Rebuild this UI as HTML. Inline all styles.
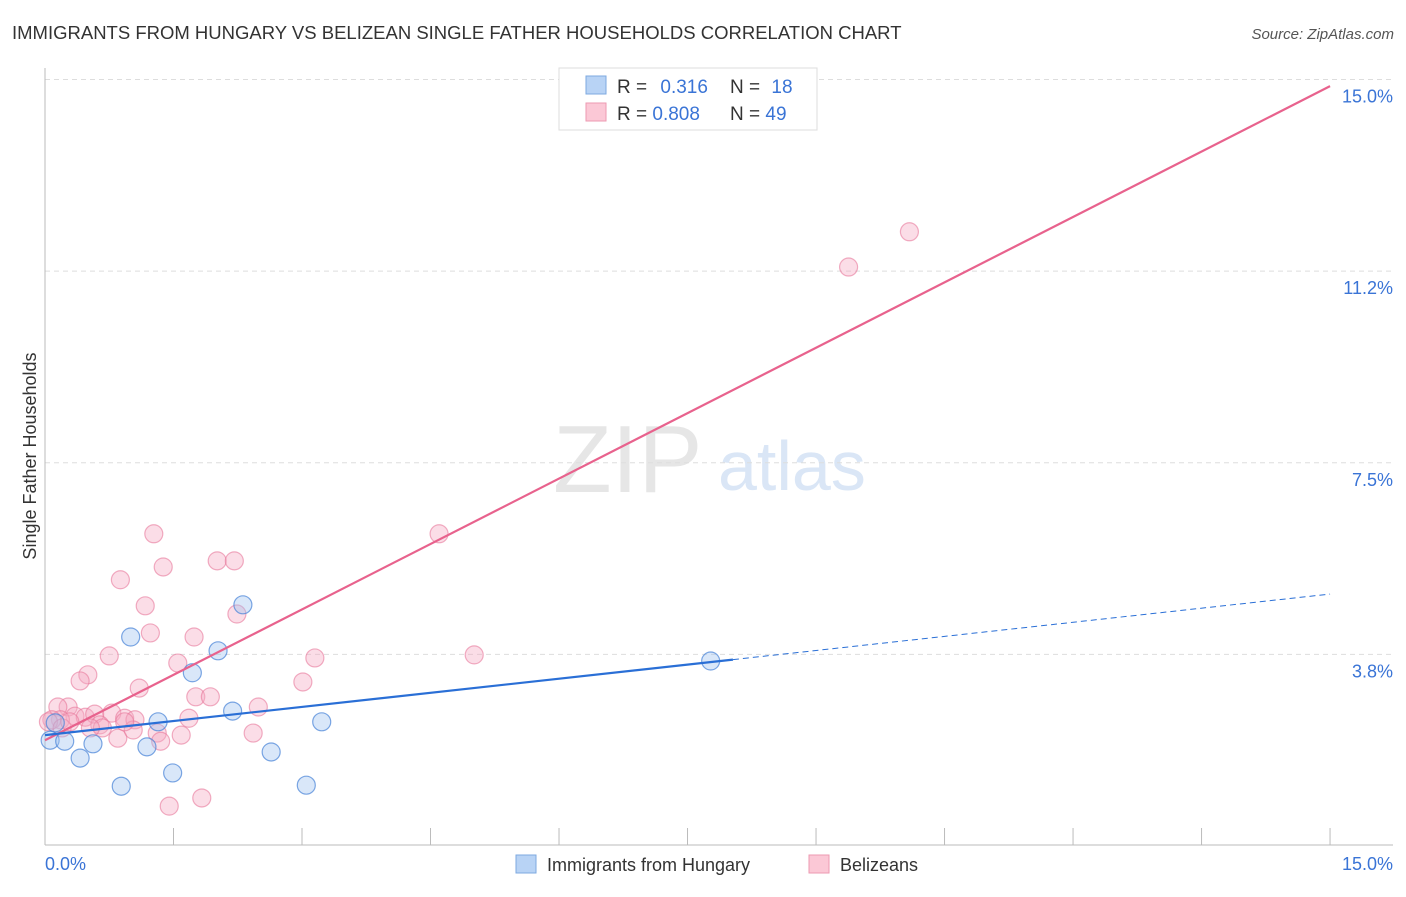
<!DOCTYPE html>
<html><head><meta charset="utf-8"><style>
body{margin:0;background:#fff;font-family:"Liberation Sans",sans-serif;}
svg text{font-family:"Liberation Sans",sans-serif;}
</style></head><body>
<svg width="1406" height="892" xmlns="http://www.w3.org/2000/svg">
<text x="12" y="39" font-size="18.5" fill="#333">IMMIGRANTS FROM HUNGARY VS BELIZEAN SINGLE FATHER HOUSEHOLDS CORRELATION CHART</text>
<text x="1394" y="39" font-size="15" fill="#555" font-style="italic" text-anchor="end">Source: ZipAtlas.com</text>
<text x="36" y="456" font-size="18" fill="#333" text-anchor="middle" transform="rotate(-90 36 456)">Single Father Households</text>
<text x="553" y="492" font-size="96" fill="#e6e6e6" font-family="Liberation Serif">ZIP</text>
<text x="718" y="490" font-size="70" fill="#dae6f6">atlas</text>
<g id="grid"></g><g id="axes"></g><g id="pts"></g><g id="lines"></g>
<g>
<rect x="559" y="68" width="258" height="62" fill="#fff" stroke="#ddd"/>
<rect x="586" y="76" width="20" height="18" fill="#b8d3f5" stroke="#7ea9e0"/>
<rect x="586" y="103" width="20" height="18" fill="#fbc8d6" stroke="#ec9ab2"/>
<text x="617" y="93" font-size="19" fill="#333">R = <tspan fill="#3a74d6" dx="8">0.316</tspan></text>
<text x="730" y="93" font-size="19" fill="#333">N = <tspan fill="#3a74d6" dx="6">18</tspan></text>
<text x="617" y="120" font-size="19" fill="#333">R = <tspan fill="#3a74d6">0.808</tspan></text>
<text x="730" y="120" font-size="19" fill="#333">N = <tspan fill="#3a74d6">49</tspan></text>
</g>
<g>
<rect x="516" y="855" width="20" height="18" fill="#b8d3f5" stroke="#7ea9e0"/>
<text x="547" y="871" font-size="18" fill="#333">Immigrants from Hungary</text>
<rect x="809" y="855" width="20" height="18" fill="#fbc8d6" stroke="#ec9ab2"/>
<text x="840" y="871" font-size="18" fill="#333">Belizeans</text>
</g>
</svg>
<script>
const yTicks=[3.75,7.5,11.25,15];
const yTickLabels=["3.8%","7.5%","11.2%","15.0%"];
const xTicks=[0,1.5,3,4.5,6,7.5,9,10.5,12,13.5,15];
const blueX=[0.06,0.23,0.12,0.41,0.56,0.89,1.00,1.19,1.32,1.49,1.72,2.02,2.19,2.31,2.64,3.05,3.23,7.77];
const blueY=[2.07,2.05,2.41,1.72,2.00,1.17,4.09,1.94,2.43,1.43,3.39,3.82,2.64,4.72,1.84,1.19,2.43,3.62];
const pinkX=[1.27,1.38,0.88,1.17,2.01,2.21,2.24,1.23,1.74,0.75,3.15,5.01,0.50,0.41,1.55,1.10,1.76,1.93,3.01,2.49,0.27,0.15,0.35,0.18,0.08,0.47,0.58,0.78,0.93,1.05,0.64,0.67,0.85,1.03,1.31,1.35,1.59,1.68,2.43,1.45,1.83,4.60,9.38,10.09,0.04,0.20,0.29,0.53,0.93];
const pinkY=[6.11,5.46,5.21,4.70,5.58,5.58,4.54,4.17,4.09,3.72,3.68,3.74,3.35,3.23,3.58,3.09,2.92,2.92,3.21,2.72,2.72,2.72,2.54,2.47,2.47,2.52,2.58,2.60,2.50,2.47,2.37,2.31,2.11,2.27,2.21,2.05,2.17,2.50,2.21,0.78,0.94,6.11,11.33,12.02,2.43,2.31,2.43,2.31,2.43];
const blueLine=[2.17,4.93], blueSolidEnd=8.03;
const pinkLine=[2.07,14.87];
const NS="http://www.w3.org/2000/svg";
const X=v=>45+v*85.67, Y=v=>846-v*51.1;
function mk(t,a,p){const e=document.createElementNS(NS,t);for(const k in a)e.setAttribute(k,a[k]);document.getElementById(p).appendChild(e);return e;}
yTicks.forEach((v,i)=>{
 const l=mk('line',{x1:45,x2:1393,y1:Y(v),y2:Y(v),stroke:'#ddd','stroke-dasharray':'5,4'},'grid');
 
 
 const t=mk('text',{x:1393,y:Y(v)+23,'font-size':18,fill:'#3a74d6','text-anchor':'end'},'grid');
 t.textContent=yTickLabels[i];
 
 
});
const ax=mk('line',{x1:45,x2:45,y1:68,y2:845,stroke:'#bbb'},'axes');


const bx=mk('line',{x1:45,x2:1393,y1:845,y2:845,stroke:'#bbb'},'axes');


xTicks.forEach(v=>{
 const t=mk('line',{x1:X(v),x2:X(v),y1:828,y2:845,stroke:'#bbb'},'axes');
 
 
});
const xl0=mk('text',{x:45,y:870,'font-size':18,fill:'#3a74d6'},'axes');xl0.textContent='0.0%';


const xl1=mk('text',{x:1393,y:870,'font-size':18,fill:'#3a74d6','text-anchor':'end'},'axes');xl1.textContent='15.0%';


pinkX.forEach((v,i)=>{
 const c=mk('circle',{cx:X(v),cy:Y(pinkY[i]),r:9,fill:'rgba(246,170,195,0.4)',stroke:'rgba(232,120,155,0.6)','stroke-width':1.2},'pts');
 
 
});
blueX.forEach((v,i)=>{
 const c=mk('circle',{cx:X(v),cy:Y(blueY[i]),r:9,fill:'rgba(160,195,240,0.4)',stroke:'rgba(70,130,215,0.7)','stroke-width':1.2},'pts');
 
 
});
const pl=mk('line',{x1:X(0),y1:Y(pinkLine[0]),x2:X(15),y2:Y(pinkLine[1]),stroke:'#e8628d','stroke-width':2.2},'lines');


const bAt=x=>blueLine[0]+(blueLine[1]-blueLine[0])*x/15;
const bl=mk('line',{x1:X(0),y1:Y(blueLine[0]),x2:X(blueSolidEnd),y2:Y(bAt(blueSolidEnd)),stroke:'#2a6fd6','stroke-width':2.2},'lines');


const bd=mk('line',{x1:X(blueSolidEnd),y1:Y(bAt(blueSolidEnd)),x2:X(15),y2:Y(blueLine[1]),stroke:'#2a6fd6','stroke-width':1,'stroke-dasharray':'6,4'},'lines');


</script>
</body></html>
